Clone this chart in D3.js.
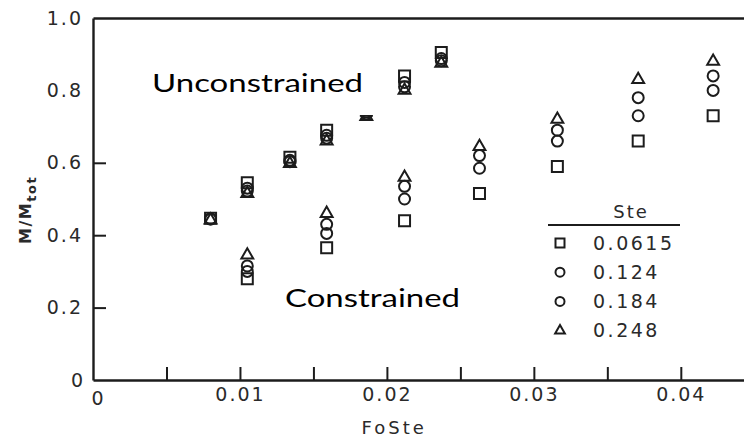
<!DOCTYPE html>
<html><head><meta charset="utf-8">
<script src="https://cdn.jsdelivr.net/npm/d3@7"></script>
<style>body{margin:0;background:#fff}svg{display:block}</style>
</head><body><svg id="c" width="744" height="443"></svg>
<script>
// ---- data ----
const seriesNames = ["0.0615", "0.124", "0.184", "0.248"];
const seriesShapes = ["square", "circle", "circle", "triangle"];
const foUnconstrained = [0.0080, 0.0105, 0.0134, 0.0159, 0.0186, 0.0212, 0.0237];
const unconS1 = [0.447, 0.545, 0.615, 0.690, 0.745, 0.840, 0.905];
const unconS2 = [0.445, 0.530, 0.607, 0.676, 0.740, 0.822, 0.888];
const unconS3 = [0.445, 0.522, 0.603, 0.668, 0.735, 0.810, 0.882];
const unconS4 = [0.442, 0.515, 0.598, 0.660, 0.728, 0.800, 0.875];
const foConstrained = [0.0105, 0.0159, 0.0212, 0.0263, 0.0316, 0.0371, 0.0422];
const conS1 = [0.280, 0.365, 0.440, 0.515, 0.590, 0.660, 0.730];
const conS2 = [0.300, 0.405, 0.500, 0.585, 0.660, 0.730, 0.800];
const conS3 = [0.315, 0.430, 0.535, 0.620, 0.690, 0.780, 0.840];
const conS4 = [0.345, 0.460, 0.560, 0.645, 0.720, 0.830, 0.880];
const xLabelTicks = [0, 0.01, 0.02, 0.03, 0.04];
const xMarkTicks = [0.005, 0.01, 0.015, 0.02, 0.025, 0.03, 0.035, 0.04];
const yLabelTicks = [0, 0.2, 0.4, 0.6, 0.8, 1.0];
const yMarkTicks = [0.2, 0.4, 0.6];
const xTitle = "FoSte", yTitleMain = "M/M", yTitleSub = "tot", legendTitle = "Ste";
const labelUnconstrained = "Unconstrained", labelConstrained = "Constrained";

// ---- build ----
const svg = d3.select("#c");
const ink = "#1c1c1c";
const x = d3.scaleLinear().domain([0, 0.0443]).range([93, 744]);
const y = d3.scaleLinear().domain([0, 1]).range([380, 18]);

const unconSeries = [unconS1, unconS2, unconS3, unconS4];
const conSeries = [conS1, conS2, conS3, conS4];
const points = [];
[unconSeries, conSeries].forEach((group, gi) => {
  const xs = gi === 0 ? foUnconstrained : foConstrained;
  group.forEach((vals, si) => vals.forEach((v, i) => points.push({x: xs[i], y: v, s: si})));
});

function shapePath(shape, sz) {
  if (shape === "square") { const h = sz / 2; return `M${-h},${-h}H${h}V${h}H${-h}Z`; }
  if (shape === "circle") { const r = sz / 2; return `M${r},0A${r},${r} 0 1 1 ${-r},0A${r},${r} 0 1 1 ${r},0Z`; }
  const s = sz * 1.08, hgt = s * Math.sqrt(3) / 2;
  return `M0,${-hgt * 2 / 3}L${s / 2},${hgt / 3}L${-s / 2},${hgt / 3}Z`;
}

// axes
const fmt = d => d === 0 ? "0" : (d >= 0.1 || d === 1 ? d3.format(".1f")(d) : d3.format(".2f")(d));
const axStyle = g => g.selectAll("text").attr("fill", "#2a2a2a").style("font-family", "DejaVu Sans").style("font-size", "19px").style("letter-spacing", "2px");

svg.append("g").attr("transform", `translate(0,${y(0)})`)
  .call(d3.axisBottom(x).tickValues(xMarkTicks).tickSize(-13).tickSizeOuter(0).tickFormat(""))
  .call(g => g.select(".domain").attr("stroke", ink).attr("stroke-width", 2.4))
  .call(g => g.selectAll(".tick line").attr("stroke", ink).attr("stroke-width", 2));
svg.append("g").attr("transform", `translate(0,${y(0)})`)
  .call(d3.axisBottom(x).tickValues(xLabelTicks).tickSize(0).tickPadding(8).tickFormat(fmt))
  .call(g => g.select(".domain").remove())
  .call(axStyle)
  .call(g => g.selectAll(".tick").filter(d => d === 0).select("text").attr("dx", "5px").attr("dy", "0.9em"));

svg.append("g").attr("transform", `translate(${x(0)},0)`)
  .call(d3.axisLeft(y).tickValues(yMarkTicks).tickSize(-13).tickSizeOuter(0).tickFormat(""))
  .call(g => g.select(".domain").attr("stroke", ink).attr("stroke-width", 2.4))
  .call(g => g.selectAll(".tick line").attr("stroke", ink).attr("stroke-width", 2));
svg.append("g").attr("transform", `translate(${x(0)},0)`)
  .call(d3.axisLeft(y).tickValues(yLabelTicks).tickSize(0).tickPadding(10).tickFormat(fmt))
  .call(g => g.select(".domain").remove())
  .call(axStyle)
  .call(g => g.selectAll(".tick").filter(d => d === 0).select("text").attr("dx", "2px"));

// top border
svg.append("g").attr("transform", `translate(0,${y(1)})`)
  .call(d3.axisTop(x).tickValues([]).tickSizeOuter(0))
  .call(g => g.select(".domain").attr("stroke", ink).attr("stroke-width", 2.4));

// titles
svg.append("text").attr("x", (x(0.02) + x(0.021)) / 2).attr("y", 434)
  .attr("text-anchor", "middle").attr("fill", "#2a2a2a")
  .style("font-family", "DejaVu Sans").style("font-size", "18px").style("letter-spacing", "3px").text(xTitle);
const yt = svg.append("text").attr("transform", `translate(31,${y(0.47)}) rotate(-90)`)
  .attr("text-anchor", "middle").attr("fill", "#2a2a2a")
  .style("font-family", "DejaVu Sans").style("font-weight", "bold").style("font-size", "16px").style("letter-spacing", "1.5px");
yt.append("tspan").text(yTitleMain);
yt.append("tspan").attr("dy", "5").style("font-size", "13px").text(yTitleSub);

// points
svg.append("g").selectAll("path").data(points).join("path")
  .attr("transform", d => `translate(${x(d.x)},${y(d.y)})`)
  .attr("d", d => shapePath(seriesShapes[d.s], 11))
  .attr("fill", "none").attr("stroke", ink).attr("stroke-width", 2);

// annotation labels with white boxes
function label(txt, x0, base, w, fs, boxBottom) {
  const top = base - fs - 6;
  svg.append("rect").attr("x", x0 - 12).attr("y", top).attr("width", w + 22).attr("height", boxBottom - top).attr("fill", "#fff");
  svg.append("text").attr("x", x0).attr("y", base).attr("fill", "#000")
    .attr("textLength", w).attr("lengthAdjust", "spacingAndGlyphs")
    .style("font-family", "Lato, 'Open Sans', sans-serif").style("font-size", fs + "px").text(txt);
}
label(labelUnconstrained, 152, 92, 211, 25, 115);
label(labelConstrained, 285, 307, 175, 25, 318);

// legend
const lg = svg.append("g");
lg.append("text").attr("x", 631).attr("y", 218).attr("text-anchor", "middle").attr("fill", "#2a2a2a")
  .style("font-family", "DejaVu Sans").style("font-size", "18px").style("letter-spacing", "2px").text(legendTitle);
lg.append("line").attr("x1", 548).attr("x2", 680).attr("y1", 225).attr("y2", 225).attr("stroke", ink).attr("stroke-width", 2.2);
seriesNames.forEach((n, i) => {
  const cy = 243 + i * 29.2;
  lg.append("path").attr("transform", `translate(560,${cy})`).attr("d", shapePath(seriesShapes[i], 9))
    .attr("fill", "none").attr("stroke", ink).attr("stroke-width", 2);
  lg.append("text").attr("x", 593).attr("y", cy).attr("dy", "0.36em").attr("fill", "#2a2a2a")
    .style("font-family", "DejaVu Sans").style("font-size", "19px").style("letter-spacing", "2.5px").text(n);
});
</script></body></html>
